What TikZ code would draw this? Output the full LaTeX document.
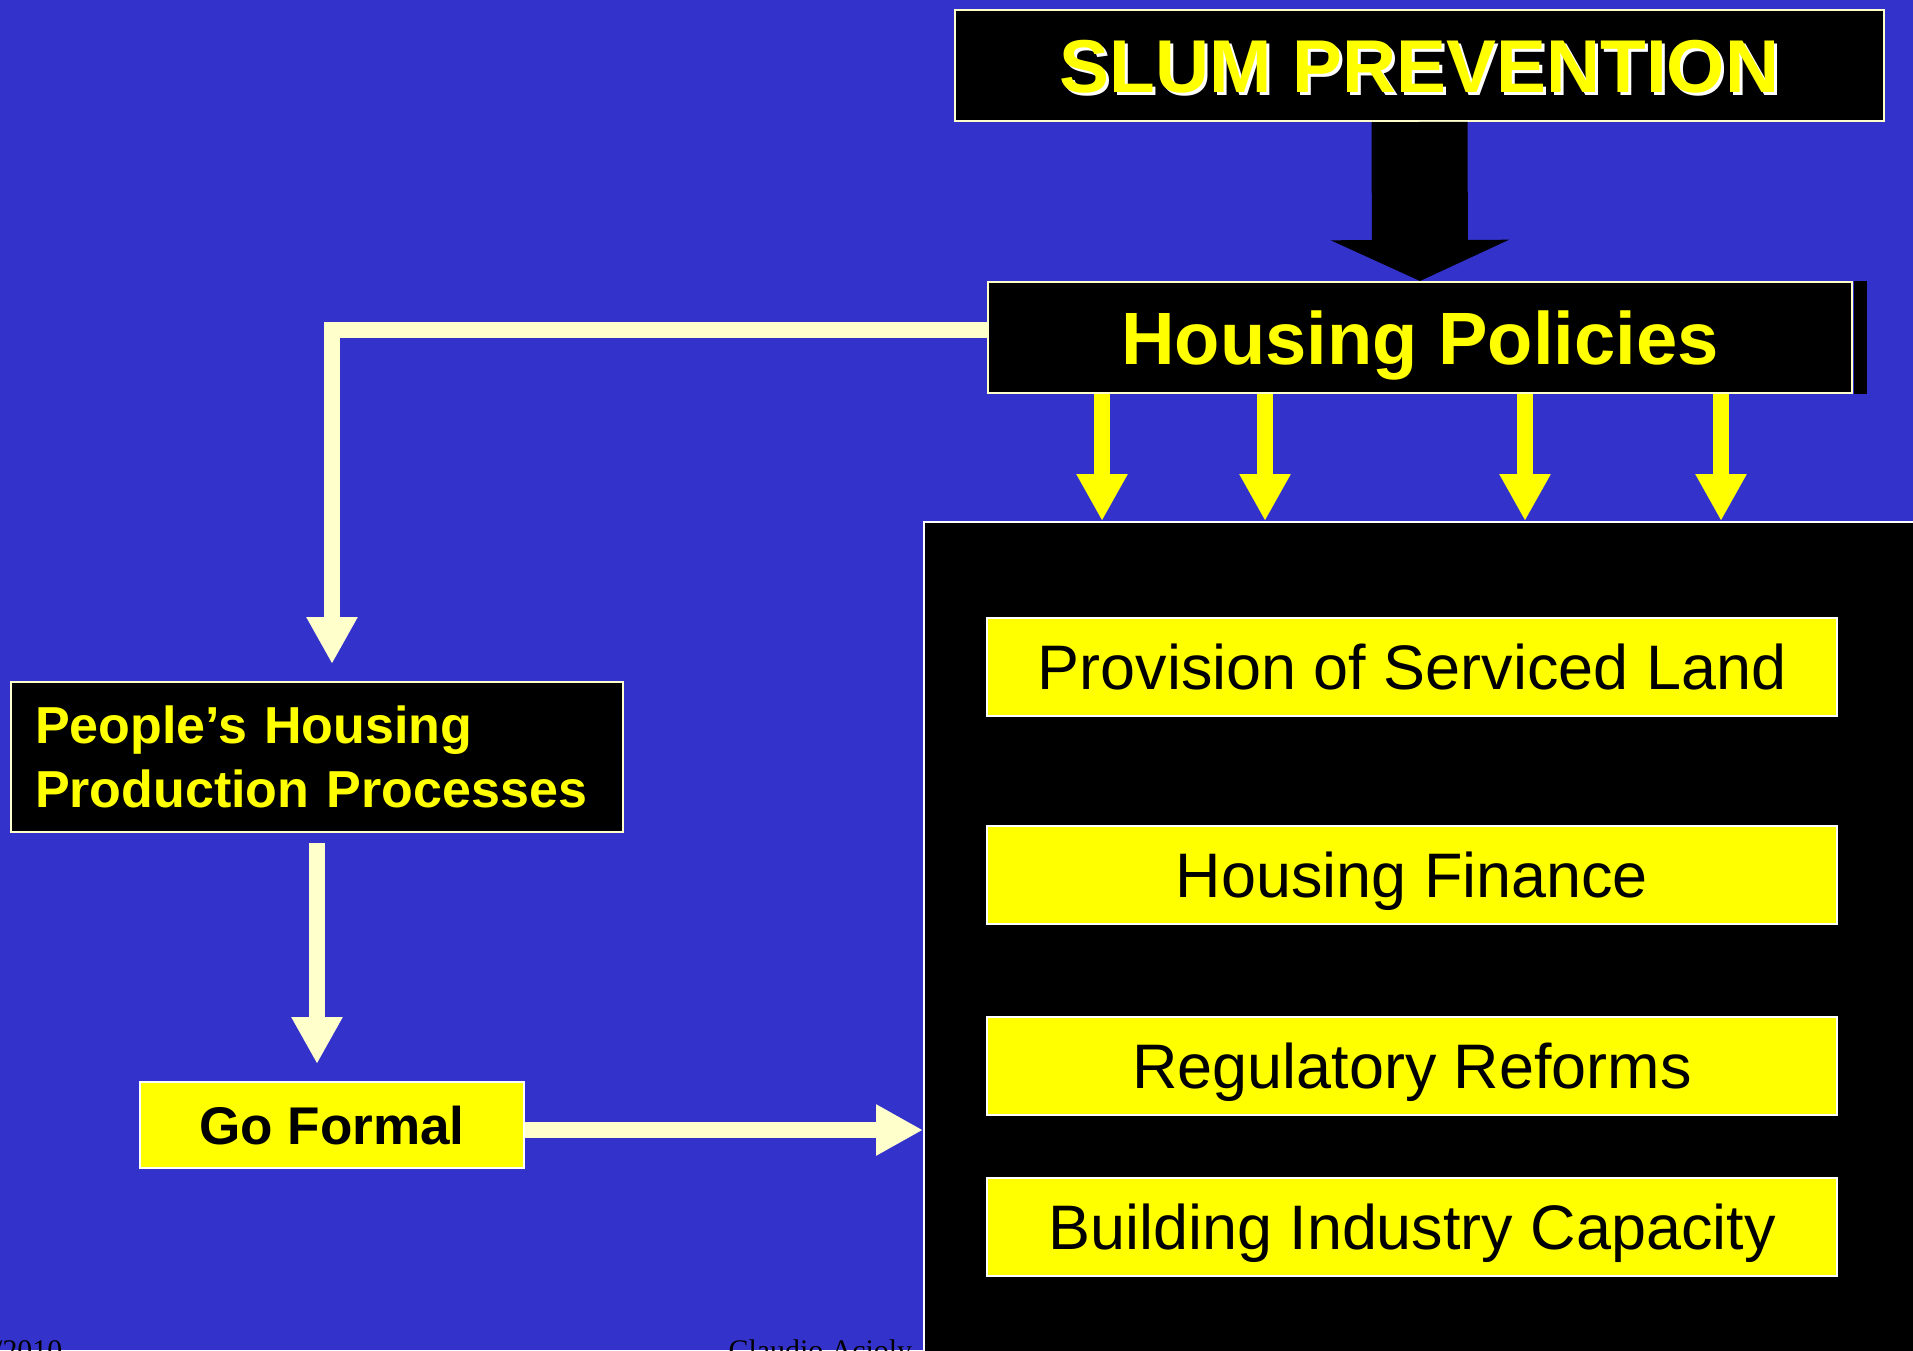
\documentclass[tikz,border=0pt]{standalone}
\usepackage{fontspec}
\setmainfont{Liberation Sans}
\newfontfamily\footfont{Liberation Serif}
\usetikzlibrary{arrows.meta}
\definecolor{slideblue}{RGB}{51,51,204}
\definecolor{cream}{RGB}{255,255,204}
\definecolor{signyellow}{RGB}{255,255,0}

\begin{document}
\begin{tikzpicture}[x=0.1mm, y=-0.1mm,
        darkbox/.style={draw=cream, line width=0.2mm, fill=black, text=signyellow, inner sep=0pt},
        itembox/.style={draw=white, line width=0.2mm, fill=signyellow, text=black, inner sep=0pt,
            minimum width=85mm, minimum height=9.8mm, text height=4.4mm, text depth=0pt,
            font=\fontsize{17.9}{21}\selectfont},
        creamarrow/.style={draw=cream, line width=1.6mm, -{Triangle[width=4.8mm,length=4.7mm]}},
        yellowarrow/.style={draw=signyellow, line width=1.6mm, -{Triangle[width=4.8mm,length=4.7mm]}},
        footer/.style={inner sep=0pt, text=black, font=\footfont\fontsize{8.5}{10}\selectfont}]
            %\draw[lightgray] (0, 0) grid[step=100] (1913, 1350);
            \useasboundingbox (0, 0) rectangle (1913, 1350);
            \fill[slideblue] (0, 0) rectangle (1913, 1350);
            \node[footer, anchor=base east] (date) at (63, 1360) {/2010};
            \node[footer, anchor=base west] (author) at (728, 1360) {Claudio Acioly};
            % right hand block
            \node[fill=black, draw=white, line width=0.2mm, minimum width=100.6mm, minimum height=84.8mm] (board) at (1427, 946) {};
            \foreach \y/\t [count=\i] in {667/Provision of Serviced Land, 875/Housing Finance,
                    1066/Regulatory Reforms, 1227/Building Industry Capacity}
                \node[itembox] (item\i) at (1412, \y) {\t};
            \node[darkbox, minimum width=92.9mm, minimum height=11.1mm, text height=5.4mm, text depth=0pt,
                font=\bfseries\fontsize{21.3}{25}\selectfont] (slum) at (1419.5, 65.5)
                {\rlap{\kern0.3mm\raisebox{-0.3mm}{\textcolor{white}{SLUM PREVENTION}}}SLUM PREVENTION};
            \node[darkbox, minimum width=86.4mm, minimum height=11.1mm, text height=5.3mm, text depth=0pt,
                font=\bfseries\fontsize{21.1}{25}\selectfont] (policies) at (1420, 337.5) {Housing Policies};
            \fill ([xshift=0.1mm]policies.north east) rectangle ([xshift=1.4mm]policies.south east);
            % left hand block
            \node[darkbox, text width=56.4mm, inner xsep=2.4mm, minimum height=15mm, align=left,
                font=\bfseries\fontsize{14.8}{18.2}\selectfont] (people) at (317, 757)
                {People’s Housing\\Production Processes};
            \node[itembox, minimum width=38.4mm, minimum height=8.6mm, text height=3.8mm,
                font=\bfseries\fontsize{15.1}{18}\selectfont] (goformal) at (332, 1125) {Go Formal};
            % arrows
            \draw[line width=9.6mm, -{Triangle[width=17.7mm,length=4.1mm]}] (slum.south) -- (policies.north);
            \foreach \x in {1102, 1265, 1525, 1721}
                \draw[yellowarrow] (\x, 0 |- policies.south) -- (\x, 0 |- board.north);
            \coordinate (pturn) at ([yshift=0.75mm]policies.west);
            \coordinate (ptip) at ([xshift=1.5mm, yshift=1.7mm]people.north);
            \draw[creamarrow] (pturn) -| (ptip);
            \coordinate (pout) at ([yshift=-1mm]people.south);
            \coordinate (gftip) at ([yshift=1.7mm]goformal.north);
            \draw[creamarrow] (pout) -- (pout |- gftip);
            \coordinate (gfout) at ([yshift=-0.5mm]goformal.east);
            \draw[creamarrow] (gfout) -- (gfout -| board.west);
        \end{tikzpicture}
\end{document}
